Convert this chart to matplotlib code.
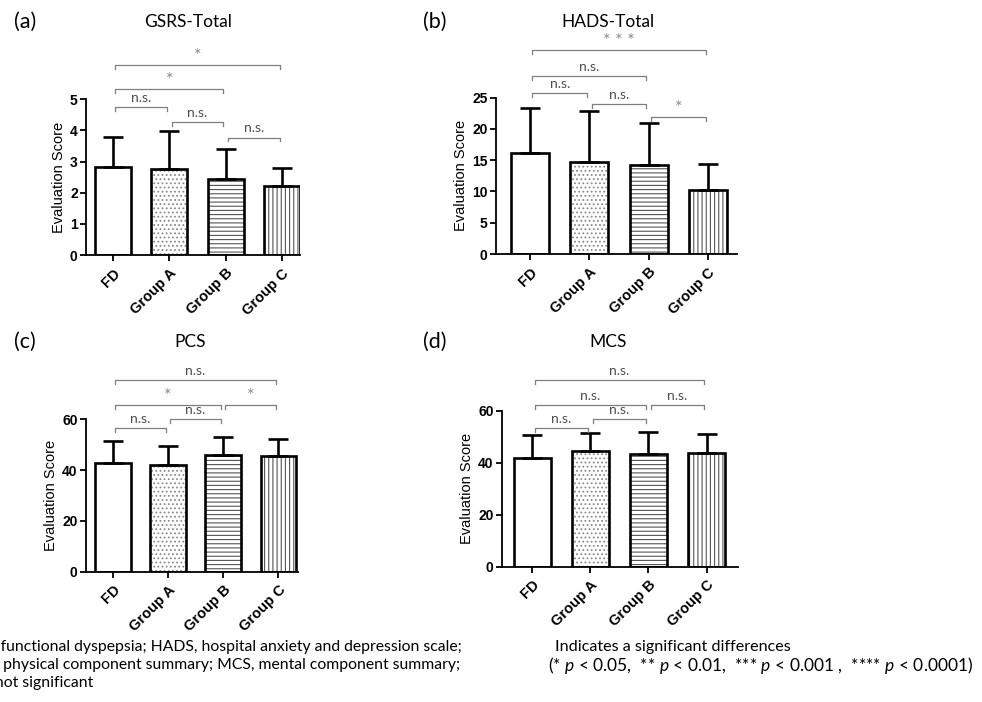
import matplotlib
matplotlib.use("Agg")
import matplotlib.pyplot as plt
import numpy as np

# ---------------- data ----------------
categories = ["FD", "Group A", "Group B", "Group C"]

gsrs_mean = [2.81, 2.77, 2.45, 2.21]
gsrs_sd = [0.99, 1.20, 0.97, 0.58]

hads_mean = [16.2, 14.7, 14.3, 10.2]
hads_sd = [7.2, 8.2, 6.7, 4.2]

pcs_mean = [42.7, 42.1, 46.1, 45.6]
pcs_sd = [8.9, 7.5, 7.1, 6.7]

mcs_mean = [41.7, 44.4, 43.2, 43.8]
mcs_sd = [8.8, 7.1, 8.5, 7.1]

# significance comparisons: (group i, group j, label)
gsrs_sig = [(0, 1, "n.s."), (1, 2, "n.s."), (2, 3, "n.s."), (0, 2, "*"), (0, 3, "*")]
hads_sig = [(0, 1, "n.s."), (1, 2, "n.s."), (2, 3, "*"), (0, 2, "n.s."), (0, 3, "* * *")]
pcs_sig = [(0, 1, "n.s."), (1, 2, "n.s."), (0, 2, "*"), (2, 3, "*"), (0, 3, "n.s.")]
mcs_sig = [(0, 1, "n.s."), (1, 2, "n.s."), (0, 2, "n.s."), (2, 3, "n.s."), (0, 3, "n.s.")]

yticks_gsrs = [0, 1, 2, 3, 4, 5]
yticks_hads = [0, 5, 10, 15, 20, 25]
yticks_sf = [0, 20, 40, 60]

# ---------------- layout ----------------
W, H = 982, 702
plt.rcParams["mathtext.fontset"] = "custom"
plt.rcParams["mathtext.rm"] = "Lato"
plt.rcParams["mathtext.it"] = "Lato:italic"
plt.rcParams["hatch.linewidth"] = 0.8

fig = plt.figure(figsize=(W / 100, H / 100), dpi=100)


def px_axes(left, right, top, bottom):
    return fig.add_axes([left / W, 1 - bottom / H, (right - left) / W, (bottom - top) / H])


hatches = ["", "....", "----", "||||"]
hatch_cols = ["white", "#8a8a8a", "#555555", "#555555"]

panels = [
    dict(box=(86, 300, 99.3, 255), xlim=(-0.48, 3.32), ymax=5, yticks=yticks_gsrs,
         mean=gsrs_mean, sd=gsrs_sd, sig=gsrs_sig,
         levels=[0.952, 0.853, 0.754, 1.065, 1.22],
         title="GSRS-Total", letter="(a)", title_xy=(188, 22), letter_xy=(25, 22)),
    dict(box=(496, 737, 97.7, 254), xlim=(-0.575, 3.49), ymax=25, yticks=yticks_hads,
         mean=hads_mean, sd=hads_sd, sig=hads_sig,
         levels=[1.032, 0.958, 0.879, 1.14, 1.305],
         title="HADS-Total", letter="(b)", title_xy=(608, 22), letter_xy=(435, 22)),
    dict(box=(86, 298, 419.3, 571.7), xlim=(-0.49, 3.36), ymax=60, yticks=yticks_sf,
         mean=pcs_mean, sd=pcs_sd, sig=pcs_sig,
         levels=[0.941, 1.0, 1.094, 1.094, 1.258],
         title="PCS", letter="(c)", title_xy=(190, 342), letter_xy=(25, 342)),
    dict(box=(502, 738, 410.7, 566.7), xlim=(-0.52, 3.54), ymax=60, yticks=yticks_sf,
         mean=mcs_mean, sd=mcs_sd, sig=mcs_sig,
         levels=[0.887, 0.945, 1.037, 1.037, 1.197],
         title="MCS", letter="(d)", title_xy=(608, 342), letter_xy=(435, 342)),
]

for p in panels:
    ax = px_axes(*p["box"])
    x = np.arange(len(categories))
    ymax = p["ymax"]
    # hatch layer
    for i in range(len(categories)):
        ax.bar(x[i], p["mean"][i], width=0.64, color="white", edgecolor=hatch_cols[i],
               hatch=hatches[i], linewidth=0, zorder=2)
    # outline layer
    ax.bar(x, p["mean"], width=0.64, fill=False, edgecolor="black", linewidth=1.9, zorder=3)
    ax.errorbar(x, p["mean"], yerr=[np.zeros(len(x)), p["sd"]], fmt="none",
                ecolor="black", elinewidth=1.9, capsize=7.2, capthick=1.9, zorder=4)
    ax.set_xlim(*p["xlim"])
    ax.set_ylim(0, ymax)
    ax.set_yticks(p["yticks"])
    ax.set_xticks(x)
    ax.set_xticklabels(categories, rotation=45, ha="right", rotation_mode="anchor",
                       fontsize=10.5, fontweight="bold", family="Liberation Sans")
    for lab in ax.get_yticklabels():
        lab.set_fontweight("bold")
        lab.set_fontsize(10)
        lab.set_family("Liberation Sans")
    ax.tick_params(axis="both", length=4, width=1.3, pad=2)
    ax.tick_params(axis="x", pad=4)
    for s in ["top", "right"]:
        ax.spines[s].set_visible(False)
    for s in ["left", "bottom"]:
        ax.spines[s].set_linewidth(1.3)
    ax.set_ylabel("Evaluation Score", fontsize=10.5, family="Liberation Sans", labelpad=3)

    # significance brackets
    drop = ymax * 0.025
    for (i, j, lab), lev in zip(p["sig"], p["levels"]):
        yb = lev * ymax
        xi, xj = x[i] + 0.04, x[j] - 0.04
        ax.plot([xi, xi, xj, xj], [yb - drop, yb, yb, yb - drop], color="#7f7f7f",
                lw=0.9, clip_on=False, zorder=5)
        if lab == "n.s.":
            ax.text((x[i] + x[j]) / 2, yb + ymax * 0.02, lab, ha="center", va="bottom",
                    fontsize=10, color="#4d4d4d", family="Lato", clip_on=False)
        else:
            ax.text((x[i] + x[j]) / 2, yb + ymax * 0.005, lab, ha="center", va="bottom",
                    fontsize=13, color="#8c8c8c", family="Lato", clip_on=False)

    fig.text(p["title_xy"][0] / W, 1 - p["title_xy"][1] / H, p["title"], ha="center",
             va="center", fontsize=12.5, family="Lato")
    fig.text(p["letter_xy"][0] / W, 1 - p["letter_xy"][1] / H, p["letter"], ha="center",
             va="center", fontsize=15.5, family="Lato")

# footer
foot_left = [
    "FD, functional dyspepsia; HADS, hospital anxiety and depression scale;",
    "PCS, physical component summary; MCS, mental component summary;",
    "n.s., not significant",
]
foot_offsets = [-28, -33, -36]
for k, (t, off) in enumerate(zip(foot_left, foot_offsets)):
    fig.text(off / W, 1 - (647 + 18 * k) / H, t, ha="left", va="center",
             fontsize=11.3, family="Lato")
fig.text(555 / W, 1 - 647 / H, "Indicates a significant differences", ha="left",
         va="center", fontsize=11.6, family="Lato")
fig.text(548 / W, 1 - 665 / H,
         r"(* $p$ < 0.05,  ** $p$ < 0.01,  *** $p$ < 0.001 ,  **** $p$ < 0.0001)",
         ha="left", va="center", fontsize=12.5, family="Lato")

fig.savefig("out.png", dpi=100)
